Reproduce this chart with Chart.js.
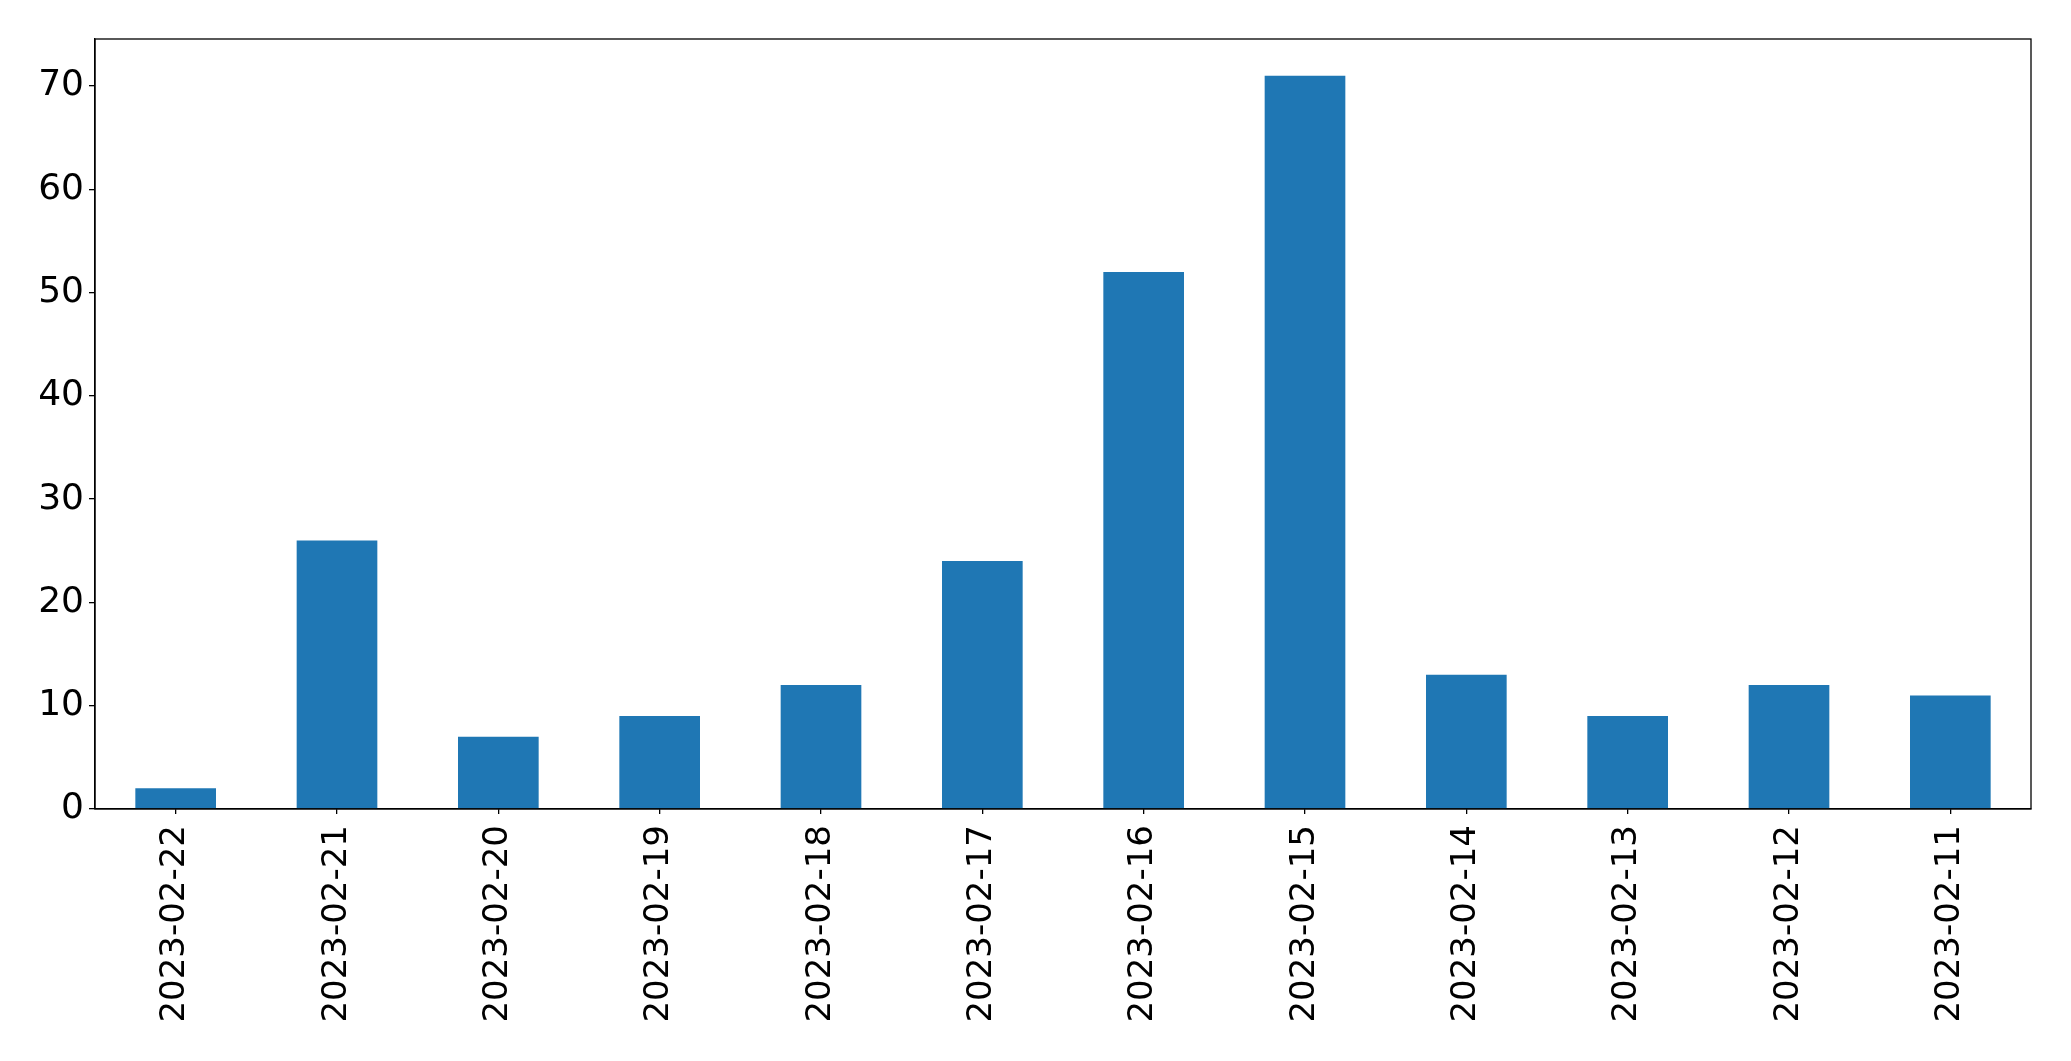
<!DOCTYPE html>
<html>
<head>
<meta charset="utf-8">
<title>Daily counts</title>
<script src="https://cdn.jsdelivr.net/npm/chart.js@4/dist/chart.umd.min.js"></script>
<style>
  html, body { margin: 0; padding: 0; background: #fff; }
  #wrap { width: 2071px; height: 1061px; }
</style>
</head>
<body>
<div id="wrap"><canvas id="bar-chart" width="2071" height="1061"></canvas></div>
<script>
// ── Data ───────────────────────────────────────────────────────────────────
const dates  = [
  "2023-02-22", "2023-02-21", "2023-02-20", "2023-02-19", "2023-02-18", "2023-02-17",
  "2023-02-16", "2023-02-15", "2023-02-14", "2023-02-13", "2023-02-12", "2023-02-11",
];
const counts = [2, 26, 7, 9, 12, 24, 52, 71, 13, 9, 12, 11];
const yTicks = [0, 10, 20, 30, 40, 50, 60, 70];

// ── Look ───────────────────────────────────────────────────────────────────
const BAR_COLOR = "#1f77b4";
const FONT_X    = { family: "'DejaVu Sans', sans-serif", size: 34 };
const FONT_Y    = { family: "'DejaVu Sans', sans-serif", size: 36 };

// matplotlib-ish headroom: 5% above the tallest bar
const yMax = Math.max(...counts) * 1.05;

// white page + full frame round the plot area
const framePlugin = {
  id: "frame",
  beforeDraw(chart) {
    const { ctx, width, height } = chart;
    ctx.save();
    ctx.fillStyle = "#fff";
    ctx.fillRect(0, 0, width, height);
    ctx.restore();
  },
  afterDraw(chart) {
    const { ctx, chartArea: a } = chart;
    ctx.save();
    ctx.strokeStyle = "#000";
    ctx.lineWidth = 1.3;
    ctx.strokeRect(a.left, a.top, a.right - a.left, a.bottom - a.top);
    ctx.restore();
  },
};

// ── Chart ──────────────────────────────────────────────────────────────────
const ctx = document.getElementById("bar-chart").getContext("2d");
new Chart(ctx, {
  type: "bar",
  data: {
    labels: dates,
    datasets: [{
      data:               counts,
      backgroundColor:    BAR_COLOR,
      borderWidth:        0,
      categoryPercentage: 1,
      barPercentage:      0.5,
    }],
  },
  options: {
    responsive: false,
    animation: false,
    devicePixelRatio: 1,
    layout: { padding: { top: 39, right: 40, left: 0, bottom: 0 } },
    plugins: { legend: { display: false }, tooltip: { enabled: false } },
    scales: {
      x: {
        offset: true,
        grid:   { display: true, offset: false, drawOnChartArea: false, drawTicks: true, tickLength: 5, color: "#000", lineWidth: 1.3 },
        border: { display: true, color: "#000", width: 1.3 },
        ticks:  { color: "#000", font: FONT_X, minRotation: 90, maxRotation: 90, padding: 11, autoSkip: false },
        afterFit(axis) { axis.height = 1061 - 809; },
      },
      y: {
        min: 0,
        max: yMax,
        grid:   { display: true, drawOnChartArea: false, drawTicks: true, tickLength: 6, color: "#000", lineWidth: 1.3 },
        border: { display: true, color: "#000", width: 1.3 },
        ticks:  { color: "#000", font: FONT_Y, padding: 5 },
        afterBuildTicks(axis) { axis.ticks = yTicks.map((v) => ({ value: v })); },
        afterFit(axis) { axis.width = 95; },
      },
    },
  },
  plugins: [framePlugin],
});
</script>
</body>
</html>
